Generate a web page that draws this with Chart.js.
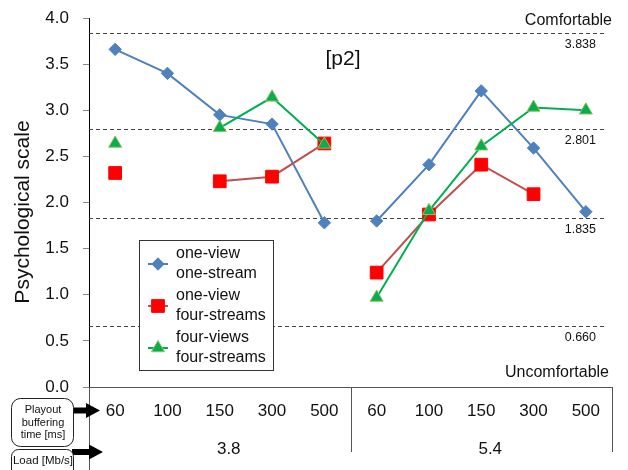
<!DOCTYPE html>
<html>
<head>
<meta charset="utf-8">
<script src="https://cdn.jsdelivr.net/npm/chart.js@4"></script>
<style>
  body { margin: 0; background: #fff; }
  canvas { display: block; }
</style>
</head>
<body>
<canvas id="chart" width="628" height="470"></canvas>
<script>
// buffering time ticks, grouped by load
const bufferTimes = ['60', '100', '150', '300', '500', '60', '100', '150', '300', '500'];
const loads = ['3.8', '5.4'];

const oneViewOneStream = [3.66, 3.40, 2.95, 2.85, 1.78, 1.80, 2.41, 3.21, 2.59, 1.90];
const oneViewFourStreams = [2.32, null, 2.23, 2.28, 2.64, 1.24, 1.87, 2.41, 2.09, null];
const fourViewsFourStreams = [2.64, null, 2.81, 3.14, 2.63, 0.97, 1.91, 2.61, 3.03, 3.00];

const seriesNames = [['one-view', 'one-stream'], ['one-view', 'four-streams'], ['four-views', 'four-streams']];

// category boundaries on the psychological scale
const boundaries = [3.838, 2.801, 1.835, 0.660];

const FONT = '"Liberation Sans", Arial, sans-serif';

// no line between last point of one load group and first of next
const groupBreak = (color) => ctx => ctx.p0DataIndex === 4 ? 'rgba(0,0,0,0)' : color;

const decorations = {
  id: 'decorations',
  beforeDatasetsDraw(chart) {
    const { ctx, chartArea: a, scales: { y } } = chart;
    ctx.save();
    ctx.strokeStyle = '#444';
    ctx.lineWidth = 1;
    ctx.setLineDash([4, 3]);
    boundaries.forEach(v => {
      const py = Math.round(y.getPixelForValue(v)) + 0.5;
      ctx.beginPath();
      ctx.moveTo(a.left, py);
      ctx.lineTo(a.right - 5, py);
      ctx.stroke();
    });
    ctx.setLineDash([]);
    ctx.fillStyle = '#111';
    ctx.font = '12.5px ' + FONT;
    ctx.textAlign = 'right';
    ctx.textBaseline = 'middle';
    boundaries.forEach(v => {
      ctx.fillText(v.toFixed(3), a.right - 16, y.getPixelForValue(v) + 11.5);
    });
    ctx.font = '16px ' + FONT;
    ctx.fillText('Comfortable', a.right, 21);
    ctx.fillText('Uncomfortable', a.right - 3, 373);
    ctx.textAlign = 'center';
    ctx.font = '21px ' + FONT;
    ctx.fillText('[p2]', 343, 59);
    ctx.restore();
  },
  afterDraw(chart) {
    const { ctx, chartArea: a, scales: { x } } = chart;
    ctx.save();
    ctx.strokeStyle = '#555';
    ctx.lineWidth = 1;
    const sep = (x.getPixelForValue(4) + x.getPixelForValue(5)) / 2;
    const lines = [[a.left, 470], [sep, 452], [a.right, 452]];
    lines.forEach(([lx, bottom]) => {
      const px = Math.round(lx) + 0.5;
      ctx.beginPath();
      ctx.moveTo(px, a.bottom);
      ctx.lineTo(px, bottom);
      ctx.stroke();
    });

    // load labels under each group
    ctx.fillStyle = '#111';
    ctx.font = '17px ' + FONT;
    ctx.textAlign = 'center';
    ctx.textBaseline = 'middle';
    loads.forEach((l, i) => {
      const cx = (x.getPixelForValue(i * 5) + x.getPixelForValue(i * 5 + 4)) / 2;
      ctx.fillText(l, cx + 9, 449);
    });

    // left side label boxes with arrows
    const roundBox = (x0, y0, w, h, r) => {
      ctx.beginPath();
      ctx.roundRect(x0, y0, w, h, r);
      ctx.fillStyle = '#fff';
      ctx.fill();
      ctx.strokeStyle = '#222';
      ctx.stroke();
    };
    const arrow = (x0, x1, cy) => {
      ctx.beginPath();
      ctx.moveTo(x0, cy - 3);
      ctx.lineTo(x1 - 14, cy - 3);
      ctx.lineTo(x1 - 14, cy - 7.5);
      ctx.lineTo(x1, cy);
      ctx.lineTo(x1 - 14, cy + 7.5);
      ctx.lineTo(x1 - 14, cy + 3);
      ctx.lineTo(x0, cy + 3);
      ctx.closePath();
      ctx.fillStyle = '#000';
      ctx.fill();
    };
    arrow(72, 100, 410.5);
    arrow(72, 103, 452);
    roundBox(11.5, 398.5, 62, 48, 9);
    roundBox(11.5, 449.5, 62, 30, 7);
    ctx.fillStyle = '#111';
    ctx.font = '11px ' + FONT;
    ['Playout', 'buffering', 'time [ms]'].forEach((t, i) => ctx.fillText(t, 43, 410 + i * 12.5));
    ctx.font = '11.5px ' + FONT;
    ctx.fillText('Load [Mb/s]', 43, 461);

    // y axis title
    ctx.save();
    ctx.translate(23, 212);
    ctx.rotate(-Math.PI / 2);
    ctx.font = '21px ' + FONT;
    ctx.fillText('Psychological scale', 0, 0);
    ctx.restore();

    // legend
    ctx.fillStyle = '#fff';
    ctx.fillRect(139.5, 240.5, 134, 130);
    ctx.strokeStyle = '#333';
    ctx.strokeRect(139.5, 240.5, 134, 130);
    chart.data.datasets.forEach((ds, i) => {
      const cy = 264 + i * 42;
      ctx.strokeStyle = ds.borderColor;
      ctx.lineWidth = 2;
      ctx.beginPath();
      ctx.moveTo(148, cy);
      ctx.lineTo(168, cy);
      ctx.stroke();
      ctx.fillStyle = ds.pointBackgroundColor;
      ctx.strokeStyle = ds.pointBorderColor;
      ctx.lineWidth = ds.pointBorderWidth;
      Chart.helpers.drawPoint(ctx, { pointStyle: ds.pointStyle, radius: ds.pointRadius, borderWidth: ds.pointBorderWidth }, 158, cy);
      ctx.fillStyle = '#111';
      ctx.font = '16px ' + FONT;
      ctx.textAlign = 'left';
      seriesNames[i].forEach((t, j) => ctx.fillText(t, 176, cy - 10 + j * 20));
    });
    ctx.restore();
  }
};

new Chart(document.getElementById('chart'), {
  type: 'line',
  data: {
    labels: bufferTimes,
    datasets: [
      {
        label: 'one-view one-stream',
        data: oneViewOneStream,
        borderColor: '#4F81BD',
        borderWidth: 2,
        pointStyle: 'rectRot',
        pointRadius: 6.2,
        pointBackgroundColor: '#4F81BD',
        pointBorderColor: '#4F81BD',
        pointBorderWidth: 1,
        segment: { borderColor: groupBreak('#4F81BD') },
        order: 2
      },
      {
        label: 'one-view four-streams',
        data: oneViewFourStreams,
        borderColor: '#C0504D',
        borderWidth: 2,
        pointStyle: 'rect',
        pointRadius: 9,
        pointBackgroundColor: '#FF0000',
        pointBorderColor: '#FF0000',
        pointBorderWidth: 1,
        segment: { borderColor: groupBreak('#C0504D') },
        order: 1
      },
      {
        label: 'four-views four-streams',
        data: fourViewsFourStreams,
        borderColor: '#00B050',
        borderWidth: 2,
        pointStyle: 'triangle',
        pointRadius: 7.5,
        pointBackgroundColor: '#00B050',
        pointBorderColor: '#9BBB59',
        pointBorderWidth: 1,
        segment: { borderColor: groupBreak('#00B050') },
        order: 0
      }
    ]
  },
  options: {
    responsive: false,
    animation: false,
    layout: { padding: { left: 0, right: 16, top: 18, bottom: 0 } },
    plugins: { legend: { display: false }, tooltip: { enabled: false } },
    scales: {
      x: {
        offset: true,
        grid: { display: false, drawTicks: false },
        border: { color: '#555', width: 1 },
        ticks: { color: '#111', font: { size: 17, family: FONT }, padding: 14, maxRotation: 0, autoSkip: false },
        afterFit: s => { s.height = 83; }
      },
      y: {
        min: 0,
        max: 4,
        grid: { drawOnChartArea: false, tickLength: 6, color: '#888' },
        border: { color: '#000', width: 1 },
        ticks: { stepSize: 0.5, color: '#111', font: { size: 17, family: FONT }, padding: 14, callback: v => v.toFixed(1) },
        afterFit: s => { s.width = 89; s.paddingTop = 0; s.paddingBottom = 0; }
      }
    }
  },
  plugins: [decorations]
});
</script>
</body>
</html>
